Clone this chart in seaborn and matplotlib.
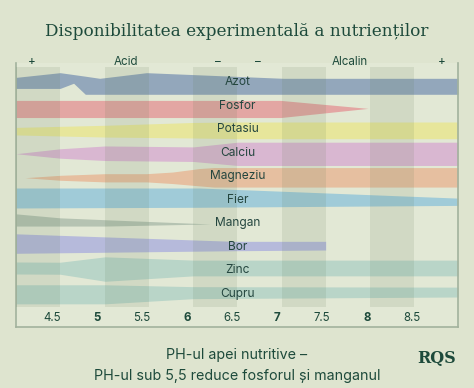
import matplotlib
matplotlib.use("Agg")
import matplotlib.pyplot as plt
import seaborn as sns

# nutrienti, de sus in jos
nutrienti = ["Azot", "Fosfor", "Potasiu", "Calciu", "Magneziu",
             "Fier", "Mangan", "Bor", "Zinc", "Cupru"]
culori = ["#93a7bb", "#e3a6a3", "#e7e69b", "#d9b7d1", "#e6bfa0",
          "#a0cbd8", "#b5c3b2", "#b6badb", "#b9d5c8", "#b9d5c8"]

# disponibilitate: pH, marginea de sus si de jos (fata de randul nutrientului)
azot_ph = [4.1, 4.59, 4.74, 4.87, 5.03, 5.55, 7.07, 9.01]
azot_sus = [-0.21, -0.41, -0.33, -0.26, -0.17, -0.41, -0.17, -0.17]
azot_jos = [0.26, 0.26, 0.04, 0.51, 0.51, 0.51, 0.51, 0.51]

fosfor_ph = [4.1, 7.04, 8.01]
fosfor_sus = [-0.23, -0.23, 0.11]
fosfor_jos = [0.50, 0.50, 0.11]

potasiu_ph = [4.1, 5.09, 6.07, 6.56, 9.01]
potasiu_sus = [-0.08, -0.17, -0.29, -0.31, -0.31]
potasiu_jos = [0.24, 0.33, 0.37, 0.40, 0.40]

calciu_ph = [4.1, 4.59, 5.09, 5.6, 6.07, 6.56, 9.01]
calciu_sus = [0.04, -0.17, -0.29, -0.27, -0.25, -0.45, -0.45]
calciu_jos = [0.04, 0.23, 0.33, 0.35, 0.37, 0.54, 0.54]

magneziu_ph = [4.2, 4.59, 5.09, 5.55, 5.84, 6.14, 6.3, 9.01]
magneziu_sus = [0.06, -0.04, -0.11, -0.11, -0.18, -0.33, -0.37, -0.37]
magneziu_jos = [0.06, 0.17, 0.24, 0.24, 0.31, 0.41, 0.46, 0.46]

fier_ph = [4.1, 6.14, 9.01]
fier_sus = [-0.50, -0.50, -0.07]
fier_jos = [0.35, 0.32, 0.24]

mangan_ph = [4.1, 4.59, 5.09, 6.26]
mangan_sus = [-0.40, -0.23, -0.15, 0.03]
mangan_jos = [0.12, 0.12, 0.12, 0.03]

bor_ph = [4.1, 6.52, 7.54]
bor_sus = [-0.55, -0.23, -0.23]
bor_jos = [0.28, 0.17, 0.14]

zinc_ph = [4.1, 4.59, 5.09, 6.07, 9.01]
zinc_sus = [-0.35, -0.34, -0.57, -0.43, -0.43]
zinc_jos = [0.16, 0.17, 0.47, 0.24, 0.24]

cupru_ph = [4.1, 5.09, 6.07, 9.01]
cupru_sus = [-0.38, -0.38, -0.30, -0.28]
cupru_jos = [0.43, 0.43, 0.21, 0.14]

benzi = [(azot_ph, azot_sus, azot_jos), (fosfor_ph, fosfor_sus, fosfor_jos),
         (potasiu_ph, potasiu_sus, potasiu_jos), (calciu_ph, calciu_sus, calciu_jos),
         (magneziu_ph, magneziu_sus, magneziu_jos), (fier_ph, fier_sus, fier_jos),
         (mangan_ph, mangan_sus, mangan_jos), (bor_ph, bor_sus, bor_jos),
         (zinc_ph, zinc_sus, zinc_jos), (cupru_ph, cupru_sus, cupru_jos)]

ph_ticks = [4.5, 5, 5.5, 6, 6.5, 7, 7.5, 8, 8.5]
etichete_sus = ["+", "Acid", "–", "–", "Alcalin", "+"]
ph_etichete_sus = [4.28, 5.32, 6.34, 6.79, 7.81, 8.83]
benzi_fundal = [4.1, 5.09, 6.07, 7.05, 8.03]  # inceputul coloanelor mai inchise

verde = "#1d4a3b"
sns.set_style("white")
plt.rcParams['font.family'] = ['Inter', 'DejaVu Sans']

fig = plt.figure(figsize=(4.74, 3.88), dpi=100, facecolor="#dee4cf")
ax = fig.add_axes([16/474, 61/388, 442/474, 264/388])
ax.set_facecolor("#e2e8d5")

for i, (ph, sus, jos) in enumerate(benzi):
    ax.fill_between(ph, [i + v for v in sus], [i + v for v in jos],
                    color=culori[i], lw=0, zorder=2)
    ax.text(6.56, i, nutrienti[i], ha="center", va="center",
            fontsize=8.6, color="#24463f", zorder=5)

for x0 in benzi_fundal:
    ax.axvspan(x0, x0 + 0.49, ymin=0.076, ymax=0.984,
               color="#5f7a55", alpha=0.13, lw=0, zorder=3)

for x, t in zip(ph_etichete_sus, etichete_sus):
    ax.text(x, -0.86, t, ha="center", va="center", fontsize=8.3,
            color=verde, clip_on=False, zorder=5)

ax.set_xlim(4.1, 9.01)
ax.set_ylim(10.417, -0.822)
ax.set_yticks([])
ax.set_xticks(ph_ticks)
ax.set_xticklabels([f"{v:g}" for v in ph_ticks])
ax.tick_params(axis="x", length=0, pad=-10.5, labelsize=8.3, labelcolor=verde)
for v, lab in zip(ph_ticks, ax.get_xticklabels()):
    if float(v).is_integer():
        lab.set_fontweight("bold")

for s in ["left", "right", "bottom"]:
    ax.spines[s].set_color("#a2b29d")
    ax.spines[s].set_linewidth(1.2)
ax.spines["top"].set_visible(False)

fig.text(0.5, 0.907, "Disponibilitatea experimentală a nutrienților",
         ha="center", va="baseline", fontsize=12.2, color=verde,
         family=["DejaVu Serif"])
fig.text(0.5, 0.085, "PH-ul apei nutritive –", ha="center", va="center",
         fontsize=10.3, color=verde)
fig.text(0.5, 0.032, "PH-ul sub 5,5 reduce fosforul și manganul", ha="center",
         va="center", fontsize=10.3, color=verde)
fig.text(0.922, 0.075, "RQS", ha="center", va="center", fontsize=11.5,
         fontweight="bold", color=verde, family=["DejaVu Serif"])

fig.savefig("out.png", dpi=100, facecolor=fig.get_facecolor())
